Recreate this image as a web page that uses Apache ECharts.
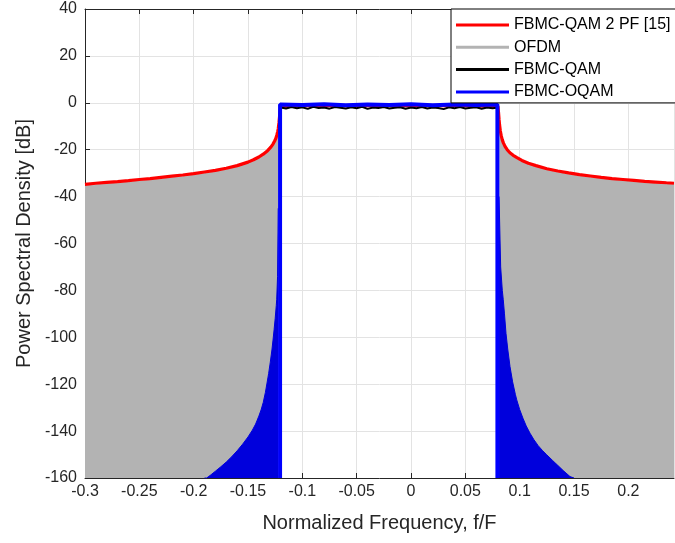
<!DOCTYPE html>
<html>
<head>
<meta charset="utf-8">
<script src="https://cdn.jsdelivr.net/npm/echarts@6/dist/echarts.min.js"></script>
<style>html,body{margin:0;padding:0;background:#fff;}#c{width:675px;height:543px;}</style>
</head>
<body>
<div id="c"></div>
<script>
// ---- data ----
const xTicks = [-0.3, -0.25, -0.2, -0.15, -0.1, -0.05, 0, 0.05, 0.1, 0.15, 0.2];
const yTicks = [-160, -140, -120, -100, -80, -60, -40, -20, 0, 20, 40];
const seriesNames = ['FBMC-QAM 2 PF [15]', 'OFDM', 'FBMC-QAM', 'FBMC-OQAM'];

// FBMC-QAM 2 PF [15] (red)
const redPsd = [
  [-0.300,-34.8],[-0.290,-34.3],[-0.280,-33.9],[-0.270,-33.6],[-0.260,-33.2],[-0.250,-32.7],
  [-0.240,-32.3],[-0.230,-31.8],[-0.220,-31.3],[-0.210,-30.8],[-0.200,-30.2],[-0.190,-29.5],
  [-0.180,-28.8],[-0.170,-27.9],[-0.160,-26.8],[-0.150,-25.3],[-0.145,-24.3],[-0.140,-23.1],
  [-0.136,-21.9],[-0.132,-20.4],[-0.129,-18.9],[-0.127,-17.6],[-0.1255,-16.3],[-0.1245,-15.3],
  [-0.1235,-13.8],[-0.1228,-12.5],[-0.1222,-11.2],[-0.1215,-8.5],[-0.1210,-6.0],[-0.1205,-3.5],
  [-0.1200,-1.5],[-0.100,-1.2],[-0.050,-1.2],[0.000,-1.2],[0.050,-1.2],
  [0.0800,-1.5],[0.0805,-4.0],[0.0810,-7.0],[0.0815,-9.5],[0.0822,-12.0],[0.0830,-14.0],
  [0.0840,-15.8],[0.0850,-17.1],[0.0865,-18.6],[0.0885,-20.0],[0.0910,-21.3],[0.0940,-22.4],
  [0.0975,-23.4],[0.102,-24.6],[0.108,-25.8],[0.115,-26.8],[0.125,-28.1],[0.135,-29.1],
  [0.145,-29.9],[0.155,-30.6],[0.165,-31.2],[0.175,-31.8],[0.185,-32.3],[0.195,-32.7],
  [0.205,-33.1],[0.215,-33.5],[0.225,-33.8],[0.235,-34.1],[0.242,-34.3]
];

// OFDM envelope (gray filled), left and right of the band
const ofdmLeft = [
  [-0.300,-35.5],[-0.290,-35.0],[-0.280,-34.6],[-0.270,-34.3],[-0.260,-33.9],[-0.250,-33.4],
  [-0.240,-33.0],[-0.230,-32.5],[-0.220,-32.0],[-0.210,-31.5],[-0.200,-30.9],[-0.190,-30.2],
  [-0.180,-29.5],[-0.170,-28.6],[-0.160,-27.5],[-0.150,-26.0],[-0.145,-25.0],[-0.140,-23.8],
  [-0.136,-22.6],[-0.132,-21.1],[-0.129,-19.6],[-0.127,-18.3],[-0.1255,-17.0],[-0.1245,-16.0],
  [-0.1235,-14.5],[-0.1228,-13.2],[-0.1222,-11.9]
];
const ofdmRight = [
  [0.0812,-9.0],[0.0815,-10.2],[0.0822,-12.7],[0.0830,-14.7],[0.0840,-16.5],[0.0850,-17.8],
  [0.0865,-19.3],[0.0885,-20.7],[0.0910,-22.0],[0.0940,-23.1],[0.0975,-24.1],[0.102,-25.3],
  [0.108,-26.5],[0.115,-27.5],[0.125,-28.8],[0.135,-29.8],[0.145,-30.6],[0.155,-31.3],
  [0.165,-31.9],[0.175,-32.5],[0.185,-33.0],[0.195,-33.4],[0.205,-33.8],[0.215,-34.2],
  [0.225,-34.5],[0.235,-34.8],[0.242,-35.0]
];

// FBMC-QAM (black) in the pass band
const fbmcQam = [
  [-0.120,-2.0],[-0.115,-2.4],[-0.110,-1.8],[-0.105,-2.3],[-0.100,-1.9],[-0.095,-2.6],
  [-0.090,-1.7],[-0.085,-2.2],[-0.080,-2.0],[-0.075,-2.5],[-0.070,-1.8],[-0.065,-2.1],
  [-0.060,-2.4],[-0.055,-1.9],[-0.050,-2.3],[-0.045,-1.7],[-0.040,-2.6],[-0.035,-2.0],
  [-0.030,-2.2],[-0.025,-1.8],[-0.020,-2.4],[-0.015,-2.1],[-0.010,-1.9],[-0.005,-2.5],
  [0.000,-2.0],[0.005,-2.3],[0.010,-1.8],[0.015,-2.4],[0.020,-2.0],[0.025,-2.2],
  [0.030,-2.7],[0.035,-1.9],[0.040,-2.3],[0.045,-1.8],[0.050,-2.4],[0.055,-2.1],
  [0.060,-1.9],[0.065,-2.5],[0.070,-2.0],[0.075,-2.3],[0.079,-2.1]
];

// FBMC-OQAM (blue): pass band and filled tails
const oqamBand = [
  [-0.1205,-160],[-0.1205,-0.7],[-0.100,-0.9],[-0.080,-0.6],[-0.060,-1.0],[-0.040,-0.7],
  [-0.020,-0.9],[0.000,-0.6],[0.020,-1.0],[0.040,-0.7],[0.060,-0.9],[0.0795,-0.7],[0.0795,-160]
];
const oqamTailLeft = [
  [-0.190,-160],[-0.188,-160],[-0.184,-158.6],[-0.180,-157.1],[-0.175,-155.2],[-0.170,-153.2],
  [-0.165,-150.9],[-0.160,-148.4],[-0.155,-145.6],[-0.150,-142.5],[-0.146,-139.6],[-0.143,-137.0],
  [-0.140,-133.6],[-0.138,-131.0],[-0.136,-127.8],[-0.134,-123.5],[-0.1325,-119.5],[-0.131,-115.4],
  [-0.1295,-110.6],[-0.128,-105.4],[-0.127,-101.2],[-0.126,-96.8],[-0.125,-92.0],[-0.124,-86.5],
  [-0.1236,-84.0],[-0.1228,-74.0],[-0.1222,-45.0]
];
const oqamTailRight = [
  [0.0810,-40],[0.0825,-70],[0.0840,-80],[0.0849,-84],[0.0860,-90],[0.0874,-98.3],[0.0890,-105],
  [0.0911,-112.5],[0.0935,-119],[0.0960,-124.3],[0.0973,-126.7],[0.1000,-130.8],[0.1030,-134.5],
  [0.1060,-137.8],[0.1095,-140.9],[0.1130,-143.6],[0.117,-146.2],[0.1210,-148.3],[0.1249,-150.1],
  [0.130,-152.4],[0.135,-154.6],[0.140,-156.8],[0.1463,-159.4],[0.148,-160],[0.150,-160]
];

const RED = '#ff0000', GRAY = '#b3b3b3', BLACK = '#000000', BLUE = '#0000ff', BLUEFILL = '#0000dc';
const AX = '#262626', GRID = '#e3e3e3';
const FONT = '"Liberation Sans", Arial, Helvetica, sans-serif';

const chart = echarts.init(document.getElementById('c'), null, {renderer: 'canvas'});

function areaSeries(name, data, color, fill) {
  return {
    name, type: 'line', data, xAxisIndex: 0, yAxisIndex: 0,
    symbol: 'none', smooth: false,
    itemStyle: {color},
    lineStyle: {color: fill, width: 1},
    areaStyle: {color: fill, opacity: 1, origin: 'start'},
    emphasis: {disabled: true}, silent: true
  };
}

chart.setOption({
  animation: false,
  backgroundColor: '#ffffff',
  textStyle: {fontFamily: FONT},
  grid: {left: 85, right: 1, top: 9, bottom: 65},
  legend: {
    data: seriesNames,
    orient: 'vertical',
    left: 451, top: 9,
    icon: 'rect',
    itemWidth: 53, itemHeight: 3,
    itemGap: 6.3,
    padding: [8, 6, 3, 5],
    backgroundColor: '#ffffff',
    borderColor: '#000000',
    borderWidth: 1,
    selectedMode: false,
    itemStyle: {borderWidth: 0},
    textStyle: {fontFamily: FONT, fontSize: 16, color: '#000000'}
  },
  xAxis: [{
    type: 'value', min: -0.3, max: 0.242, interval: 0.05,
    name: 'Normalized Frequency, f/F', nameLocation: 'middle', nameGap: 35,
    nameTextStyle: {fontFamily: FONT, fontSize: 20, color: AX},
    axisLine: {show: true, onZero: false, lineStyle: {color: AX, width: 1}},
    axisTick: {show: true, inside: true, length: 5, lineStyle: {color: AX}},
    axisLabel: {fontFamily: FONT, fontSize: 16, color: AX, margin: 6, showMaxLabel: false},
    splitLine: {show: true, lineStyle: {color: GRID, width: 1}}
  }, {
    type: 'value', min: -0.3, max: 0.242, interval: 0.05, position: 'top',
    axisLine: {show: true, onZero: false, lineStyle: {color: AX, width: 1}},
    axisTick: {show: true, inside: true, length: 5, lineStyle: {color: AX}},
    axisLabel: {show: false},
    splitLine: {show: false}
  }],
  yAxis: [{
    type: 'value', min: -160, max: 40, interval: 20,
    name: 'Power Spectral Density [dB]', nameLocation: 'middle', nameGap: 51,
    nameTextStyle: {fontFamily: FONT, fontSize: 20, color: AX},
    axisLine: {show: true, onZero: false, lineStyle: {color: AX, width: 1}},
    axisTick: {show: true, inside: true, length: 5, lineStyle: {color: AX}},
    axisLabel: {fontFamily: FONT, fontSize: 16, color: AX, margin: 8},
    splitLine: {show: true, lineStyle: {color: GRID, width: 1}}
  }],
  series: [
    areaSeries(seriesNames[1], ofdmLeft, GRAY, GRAY),
    areaSeries(seriesNames[1], ofdmRight, GRAY, GRAY),
    areaSeries(seriesNames[3], oqamTailLeft, BLUE, BLUEFILL),
    areaSeries(seriesNames[3], oqamTailRight, BLUE, BLUEFILL),
    {
      name: seriesNames[0], type: 'line', data: redPsd, symbol: 'none',
      itemStyle: {color: RED}, lineStyle: {color: RED, width: 3.2},
      emphasis: {disabled: true}, silent: true
    },
    {
      name: seriesNames[2], type: 'line', data: fbmcQam, symbol: 'none',
      itemStyle: {color: BLACK}, lineStyle: {color: BLACK, width: 2},
      emphasis: {disabled: true}, silent: true
    },
    {
      name: seriesNames[3], type: 'line', data: oqamBand, symbol: 'none',
      itemStyle: {color: BLUE}, lineStyle: {color: BLUE, width: 4},
      emphasis: {disabled: true}, silent: true
    }
  ]
});
</script>
</body>
</html>
